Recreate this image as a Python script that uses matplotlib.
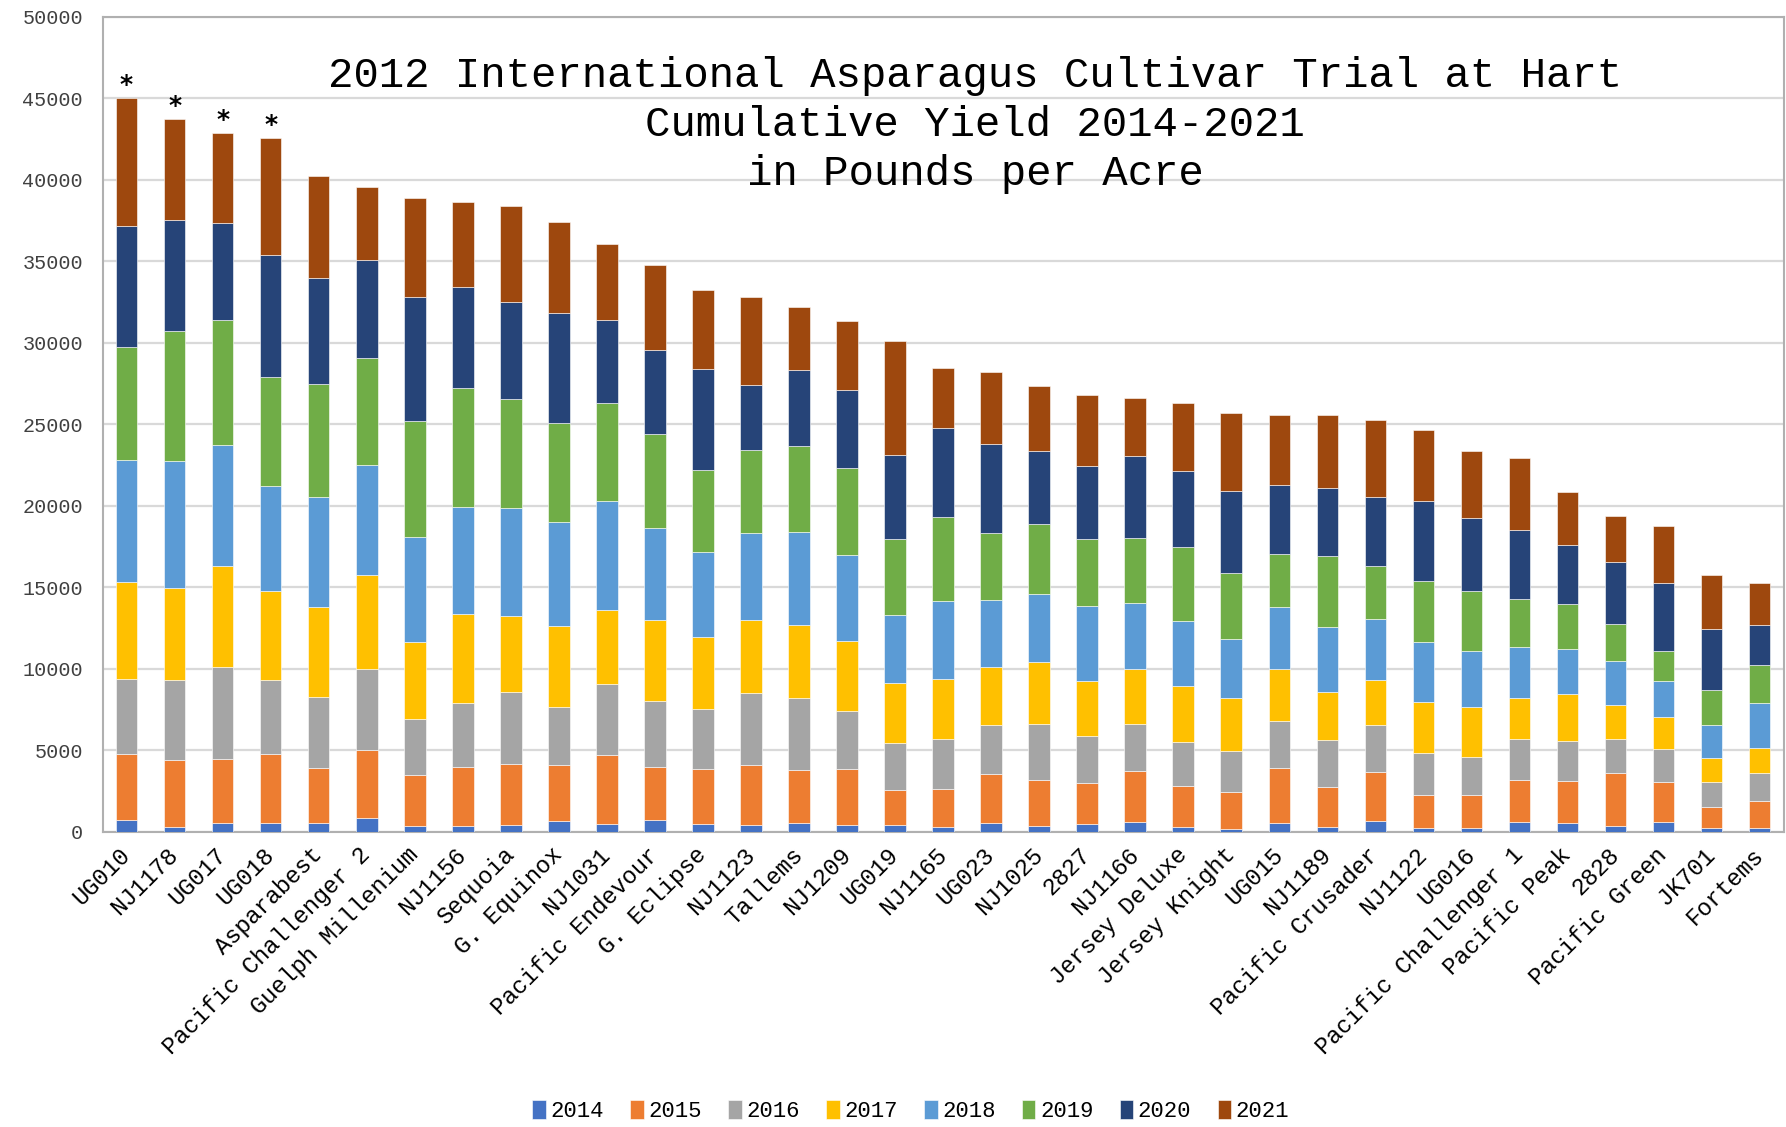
import numpy as np
import matplotlib
matplotlib.use("Agg")
import matplotlib.pyplot as plt

plt.rcParams['font.family'] = ['Liberation Mono', 'DejaVu Sans']

cultivars = ['UG010', 'NJ1178', 'UG017', 'UG018', 'Asparabest', 'Pacific Challenger 2',
             'Guelph Millenium', 'NJ1156', 'Sequoia', 'G. Equinox', 'NJ1031',
             'Pacific Endevour', 'G. Eclipse', 'NJ1123', 'Tallems', 'NJ1209', 'UG019',
             'NJ1165', 'UG023', 'NJ1025', '2827', 'NJ1166', 'Jersey Deluxe',
             'Jersey Knight', 'UG015', 'NJ1189', 'Pacific Crusader', 'NJ1122', 'UG016',
             'Pacific Challenger 1', 'Pacific Peak', '2828', 'Pacific Green', 'JK701',
             'Fortems']

years = ['2014', '2015', '2016', '2017', '2018', '2019', '2020', '2021']

# yearly yield, lbs/acre
y2014 = [700, 300, 530, 530, 530, 860, 370, 330, 430, 630, 490, 740, 490, 410, 520, 410,
         410, 270, 520, 330, 470, 580, 290, 160, 530, 290, 630, 230, 230, 590, 530, 330,
         570, 200, 200]
y2015 = [4060, 4120, 3960, 4230, 3360, 4160, 3120, 3630, 3730, 3460, 4190, 3260, 3350,
         3700, 3260, 3450, 2140, 2330, 3010, 2850, 2540, 3150, 2520, 2300, 3360, 2450,
         3060, 2020, 2040, 2600, 2600, 3250, 2480, 1320, 1680]
y2016 = [4620, 4860, 5620, 4520, 4390, 4990, 3430, 3960, 4390, 3560, 4360, 4050, 3670,
         4380, 4440, 3540, 2900, 3070, 3020, 3420, 2850, 2870, 2700, 2490, 2910, 2890,
         2840, 2580, 2300, 2520, 2440, 2130, 2010, 1530, 1700]
y2017 = [5920, 5690, 6190, 5490, 5530, 5760, 4720, 5420, 4660, 4990, 4580, 4960, 4440,
         4520, 4490, 4330, 3670, 3730, 3560, 3840, 3400, 3400, 3420, 3240, 3170, 2970,
         2750, 3160, 3110, 2520, 2870, 2090, 2000, 1470, 1560]
y2018 = [7490, 7780, 7450, 6420, 6720, 6720, 6460, 6590, 6680, 6360, 6650, 5620, 5200,
         5350, 5700, 5260, 4200, 4760, 4140, 4140, 4600, 4050, 4010, 3640, 3790, 3990,
         3780, 3660, 3440, 3110, 2780, 2680, 2190, 2030, 2780]
y2019 = [6980, 7990, 7650, 6690, 6920, 6550, 7120, 7280, 6690, 6080, 6060, 5780, 5040,
         5040, 5290, 5310, 4650, 5160, 4110, 4300, 4110, 3980, 4530, 4060, 3300, 4300,
         3240, 3710, 3660, 2930, 2760, 2250, 1870, 2130, 2300]
y2020 = [7390, 6780, 5930, 7520, 6520, 6060, 7580, 6220, 5920, 6720, 5070, 5150, 6190,
         4000, 4630, 4800, 5130, 5450, 5420, 4460, 4470, 5040, 4660, 5040, 4230, 4200,
         4260, 4950, 4470, 4220, 3630, 3850, 4130, 3790, 2470]
y2021 = [7850, 6230, 5550, 7150, 6250, 4450, 6090, 5230, 5890, 5630, 4650, 5210, 4850,
         5390, 3890, 4240, 7040, 3670, 4410, 4000, 4380, 3560, 4160, 4770, 4300, 4460,
         4710, 4320, 4110, 4440, 3210, 2790, 3530, 3300, 2580]

starred = ['UG010', 'NJ1178', 'UG017', 'UG018']

series = [y2014, y2015, y2016, y2017, y2018, y2019, y2020, y2021]
colors = ['#4472C4', '#ED7D31', '#A5A5A5', '#FFC000', '#5B9BD5', '#70AD47',
          '#264478', '#9E480E']

fig = plt.figure(figsize=(17.86, 11.27), dpi=100)
ax = fig.add_axes([0.0574, 0.262, 0.9413, 0.723])

x = np.arange(len(cultivars))
bottom = np.zeros(len(cultivars))
for yr, vals, c in zip(years, series, colors):
    vals = np.array(vals, dtype=float)
    ax.bar(x, vals, 0.45, bottom=bottom, color=c, label=yr,
           edgecolor='white', linewidth=0.4, zorder=3)
    bottom += vals

for name in starred:
    i = cultivars.index(name)
    ax.text(i, bottom[i] + 60, '*', ha='center', va='bottom', fontsize=18,
            fontweight='bold', family='DejaVu Sans', zorder=4)

ax.set_xlim(-0.5, len(cultivars) - 0.5)
ax.set_ylim(0, 50000)
ax.set_yticks(np.arange(0, 50001, 5000))
ax.yaxis.grid(True, color='#d9d9d9', linewidth=1.6, zorder=0)
ax.set_axisbelow(True)
ax.tick_params(axis='both', length=0)
ax.tick_params(axis='y', labelsize=14.5, labelcolor='#404040', pad=14)
ax.set_xticks(x)
ax.set_xticklabels(cultivars, rotation=45, ha='right', va='center',
                   rotation_mode='anchor', fontsize=17)
ax.tick_params(axis='x', pad=14)
for s in ax.spines.values():
    s.set_color('#b0b0b0')
    s.set_linewidth(1.5)

ax.text(0.519, 0.952, '2012 International Asparagus Cultivar Trial at Hart\n'
        'Cumulative Yield 2014-2021\nin Pounds per Acre',
        transform=ax.transAxes, ha='center', va='top', fontsize=30.5,
        linespacing=1.29, zorder=5)

fig.legend(loc='center', bbox_to_anchor=(0.51, 0.014), ncol=8, frameon=False,
           fontsize=16, handlelength=0.6, handleheight=0.9, handletextpad=0.2,
           columnspacing=1.2, borderaxespad=0)

fig.savefig('out.png', dpi=100)
